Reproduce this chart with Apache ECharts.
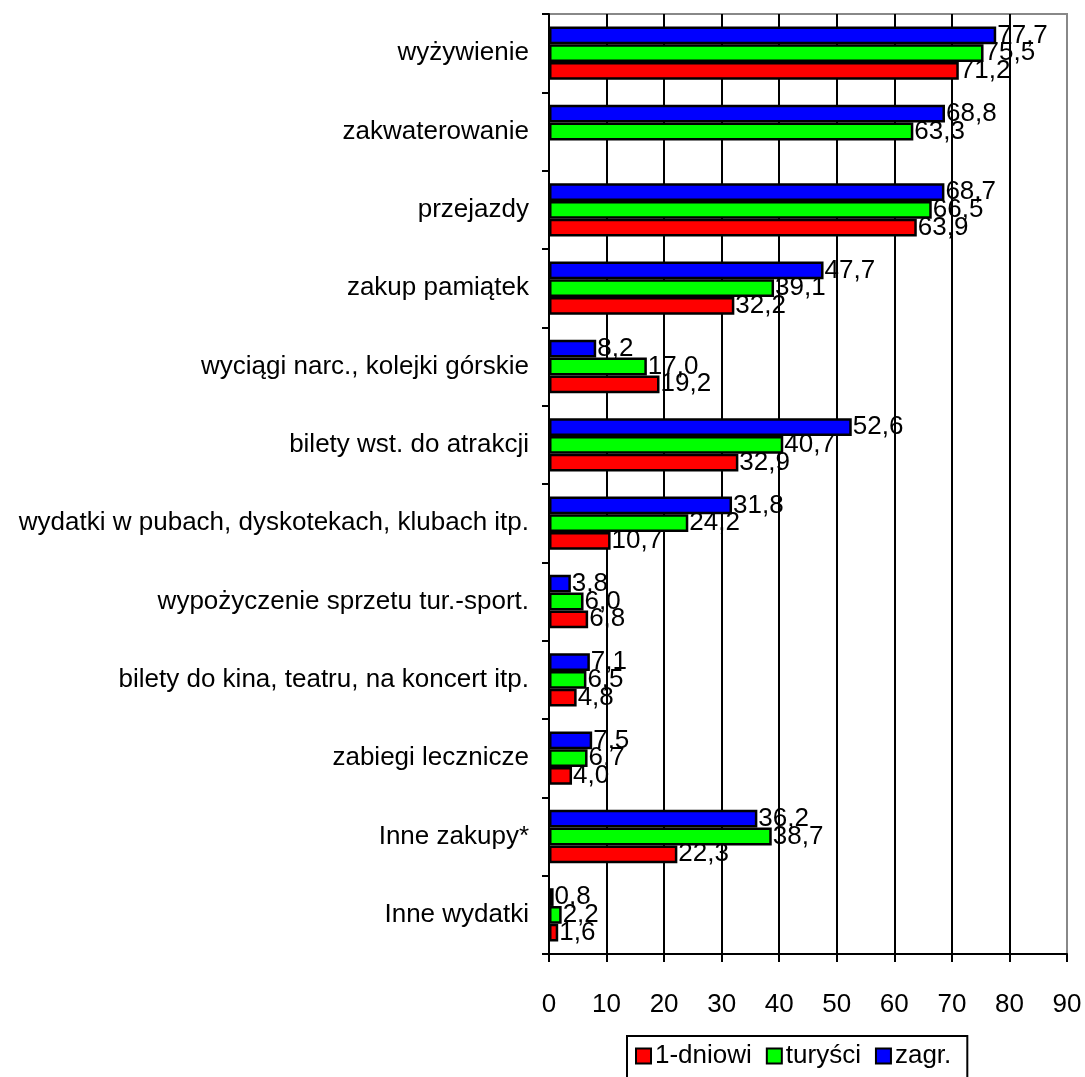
<!DOCTYPE html>
<html>
<head>
<meta charset="utf-8">
<script src="https://cdn.jsdelivr.net/npm/echarts@6/dist/echarts.min.js"></script>
<style>
html,body{margin:0;padding:0;background:#fff;}
#chart{width:1085px;height:1077px;}
</style>
</head>
<body>
<div id="chart"></div>
<script>
// Data in reading order (top to bottom)
var categories = [
  'wyżywienie',
  'zakwaterowanie',
  'przejazdy',
  'zakup pamiątek',
  'wyciągi narc., kolejki górskie',
  'bilety wst. do atrakcji',
  'wydatki w pubach, dyskotekach, klubach itp.',
  'wypożyczenie sprzetu tur.-sport.',
  'bilety do kina, teatru, na koncert itp.',
  'zabiegi lecznicze',
  'Inne zakupy*',
  'Inne wydatki'
];
var jednodniowi = [71.2, null, 63.9, 32.2, 19.2, 32.9, 10.7, 6.8, 4.8, 4.0, 22.3, 1.6];
var turysci     = [75.5, 63.3, 66.5, 39.1, 17.0, 40.7, 24.2, 6.0, 6.5, 6.7, 38.7, 2.2];
var zagraniczni = [77.7, 68.8, 68.7, 47.7, 8.2, 52.6, 31.8, 3.8, 7.1, 7.5, 36.2, 0.8];
var seriesNames = ['1-dniowi', 'turyści', 'zagr.'];
var xTicks = [0, 10, 20, 30, 40, 50, 60, 70, 80, 90];

var FONT = '"Liberation Sans", Arial, sans-serif';
var FS = 26;
var colors = ['#FF0000', '#00FF00', '#0000FF'];
var datasets = [jednodniowi, turysci, zagraniczni];

function rev(a){ return a.slice().reverse(); }

// ECharts places horizontal bar series from top to bottom; the reference has zagr. on top.
var order = [2, 1, 0];
var series = order.map(function(i){
  return {
    name: seriesNames[i],
    type: 'bar',
    data: rev(datasets[i]).map(function(v){ return v === null ? '-' : v; }),
    barGap: '0%',
    barCategoryGap: '32%',
    itemStyle: { color: colors[i], borderColor: '#000', borderWidth: 2.5 },
    label: {
      show: true,
      position: 'right',
      distance: 1,
      color: '#000',
      fontFamily: FONT,
      fontSize: FS,
      formatter: function(p){ return Number(p.value).toFixed(1).replace('.', ','); }
    },
    emphasis: { disabled: true },
    animation: false
  };
});

var chart = echarts.init(document.getElementById('chart'), null, {renderer: 'canvas'});
chart.setOption({
  backgroundColor: '#fff',
  animation: false,
  grid: {
    left: 549, right: 18, top: 14, bottom: 123,
    show: true, borderColor: '#888', borderWidth: 2, backgroundColor: 'transparent'
  },
  legend: {
    top: 1036,
    left: 627,
    data: seriesNames,
    itemWidth: 15,
    itemHeight: 15,
    itemGap: 14,
    padding: [7, 16, 10, 8],
    borderColor: '#000',
    borderWidth: 2,
    icon: 'rect',
    textStyle: { fontFamily: FONT, fontSize: FS, color: '#000', padding: [0,0,0,-1] }
  },
  xAxis: {
    type: 'value',
    min: 0, max: 90, interval: 10,
    axisLine: { show: true, onZero: false, lineStyle: { color: '#000', width: 2 } },
    axisTick: { show: true, length: 8, lineStyle: { color: '#000', width: 2 } },
    axisLabel: { color: '#000', fontFamily: FONT, fontSize: FS, margin: 38,
      formatter: function(v){ return xTicks.indexOf(v) >= 0 ? String(v) : ''; } },
    splitLine: { show: true, showMinLine: false, showMaxLine: false, lineStyle: { color: '#000', width: 2 } }
  },
  yAxis: {
    type: 'category',
    data: rev(categories),
    axisLine: { show: true, lineStyle: { color: '#000', width: 2 } },
    axisTick: { show: true, length: 7, lineStyle: { color: '#000', width: 2 } },
    axisLabel: { color: '#000', fontFamily: FONT, fontSize: FS, margin: 20 },
    splitLine: { show: false }
  },
  series: series
});
</script>
</body>
</html>
